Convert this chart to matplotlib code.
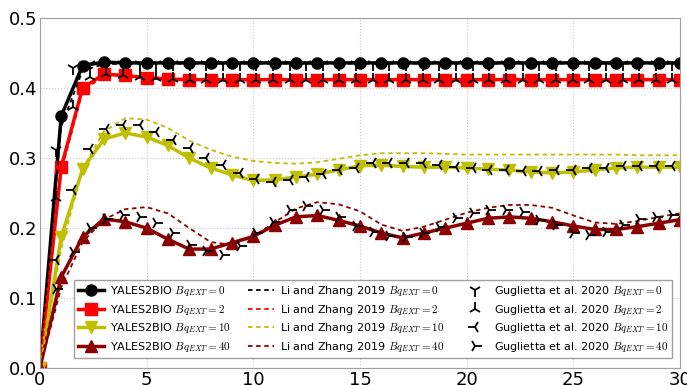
import matplotlib
matplotlib.use("Agg")
import matplotlib.pyplot as plt

plt.rcParams['mathtext.fontset'] = 'cm'
plt.rcParams['font.family'] = ['DejaVu Sans']

# time axis for YALES2BIO / Li and Zhang (integer steps)
t = list(range(31))

# YALES2BIO
yales_0 = [0, 0.360, 0.432, 0.437] + [0.436] * 27
yales_2 = [0, 0.287, 0.400, 0.420, 0.418, 0.415, 0.413] + [0.412] * 24
yales_10 = [0, 0.187, 0.284, 0.327, 0.336, 0.330, 0.318, 0.300, 0.286, 0.276,
            0.268, 0.269, 0.273, 0.277, 0.283, 0.289, 0.290, 0.288, 0.287, 0.287,
            0.286, 0.284, 0.283, 0.280, 0.279, 0.280, 0.283, 0.286, 0.287, 0.287, 0.287]
yales_40 = [0, 0.130, 0.187, 0.213, 0.209, 0.200, 0.184, 0.170, 0.170, 0.179,
            0.188, 0.204, 0.216, 0.218, 0.211, 0.203, 0.193, 0.186, 0.193, 0.200,
            0.207, 0.214, 0.216, 0.214, 0.209, 0.203, 0.198, 0.198, 0.202, 0.207, 0.212]

# Li and Zhang 2019
li_0 = [0, 0.345, 0.425, 0.434] + [0.435] * 27
li_2 = [0, 0.280, 0.395, 0.418, 0.418, 0.416, 0.414] + [0.413] * 24
li_10 = [0, 0.170, 0.285, 0.338, 0.357, 0.355, 0.343, 0.325, 0.312, 0.302,
         0.296, 0.293, 0.292, 0.294, 0.299, 0.304, 0.307, 0.307, 0.307, 0.306,
         0.305, 0.305, 0.305, 0.305, 0.305, 0.305, 0.305, 0.305, 0.304, 0.304, 0.304]
li_40 = [0, 0.115, 0.180, 0.212, 0.227, 0.230, 0.221, 0.200, 0.180, 0.176,
         0.188, 0.208, 0.228, 0.237, 0.234, 0.224, 0.205, 0.196, 0.202, 0.212,
         0.222, 0.229, 0.233, 0.233, 0.229, 0.218, 0.208, 0.206, 0.210, 0.216, 0.221]

# Guglietta et al. 2020
t_gug = [0.78, 1.56, 2.34, 3.12, 3.90, 4.68, 5.46, 6.24, 7.02, 7.80,
         8.58, 9.36, 10.14, 10.92, 11.70, 12.48, 13.26, 14.04, 14.82, 15.60,
         16.38, 17.16, 17.94, 18.72, 19.50, 20.28, 21.06, 21.84, 22.62, 23.40,
         24.18, 24.96, 25.74, 26.52, 27.30, 28.08, 28.86, 29.64]
gug_0 = [0.311, 0.428, 0.434] + [0.435] * 35
gug_2 = [0.243, 0.373, 0.416, 0.420, 0.418, 0.416, 0.414, 0.413] + [0.412] * 30
gug_10 = [0.154, 0.254, 0.313, 0.341, 0.347, 0.347, 0.337, 0.326, 0.314, 0.300,
          0.290, 0.279, 0.270, 0.266, 0.268, 0.273, 0.277, 0.283, 0.286, 0.293,
          0.293, 0.293, 0.293, 0.290, 0.287, 0.286, 0.283, 0.283, 0.282, 0.282,
          0.283, 0.283, 0.286, 0.286, 0.289, 0.289, 0.289, 0.289]
gug_40 = [0.113, 0.166, 0.200, 0.213, 0.218, 0.216, 0.207, 0.193, 0.176, 0.167,
          0.162, 0.175, 0.193, 0.209, 0.226, 0.231, 0.226, 0.216, 0.203, 0.194,
          0.189, 0.187, 0.193, 0.201, 0.214, 0.221, 0.226, 0.226, 0.223, 0.211,
          0.204, 0.193, 0.190, 0.194, 0.204, 0.213, 0.216, 0.218]

bq = ['0', '2', '10', '40']
colors = ['k', 'r', '#bfbf00', '#8b0000']
yales = [yales_0, yales_2, yales_10, yales_40]
li = [li_0, li_2, li_10, li_40]
gug = [gug_0, gug_2, gug_10, gug_40]
ymarks = ['o', 's', 'v', '^']
gmarks = ['1', '2', '3', '4']

fig = plt.figure(figsize=(6.87, 3.85), dpi=100)
ax = fig.add_axes([0.058, 0.044, 0.932, 0.909])

for i in range(4):
    ax.plot(t, yales[i], color=colors[i], marker=ymarks[i], lw=2.5, ms=8,
            mec=colors[i], label='YALES2BIO $Bq_{EXT}=' + bq[i] + '$')
for i in range(4):
    ax.plot(t, li[i], color=colors[i], ls=(0, (2.5, 2)), lw=1.3,
            label='Li and Zhang 2019 $Bq_{EXT}=' + bq[i] + '$')
for i in range(4):
    ax.plot(t_gug, gug[i], color='k', marker=gmarks[i], ls='none', ms=9.5, mew=1.3,
            label='Guglietta et al. 2020 $Bq_{EXT}=' + bq[i] + '$')

ax.set_xlim(0, 30)
ax.set_ylim(0, 0.5)
ax.set_xticks([0, 5, 10, 15, 20, 25, 30])
ax.set_yticks([0.0, 0.1, 0.2, 0.3, 0.4, 0.5])
ax.tick_params(labelsize=13, length=0, pad=2)
ax.grid(True, ls=':', color='#c8c8c8', lw=0.8)
for s in ax.spines.values():
    s.set_color('#a0a0a0')

leg = ax.legend(ncol=3, loc='lower right', bbox_to_anchor=(0.9875, 0.029),
                fontsize=8, fancybox=False, framealpha=1, edgecolor='#a0a0a0',
                borderaxespad=0, handlelength=2.3, handletextpad=0.55,
                columnspacing=1.6, labelspacing=0.42, borderpad=0.35)

fig.savefig('out.png', dpi=100)
